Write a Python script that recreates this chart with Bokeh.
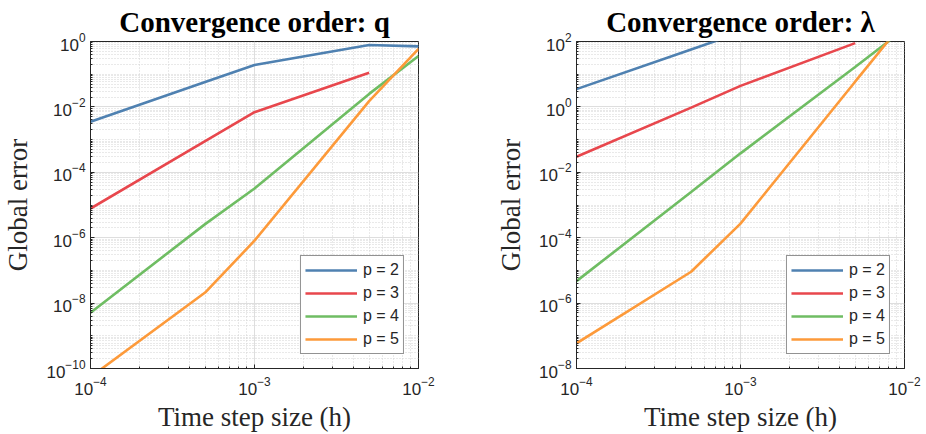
import math
from bokeh.plotting import figure
from bokeh.models import FixedTicker, Range1d, Title
from bokeh.layouts import row
from bokeh.embed import file_html
from bokeh.resources import INLINE

nan = float("nan")

# ---- data ----
h = [1e-4, 5e-4, 1e-3, 5e-3, 1e-2]
series_labels = ["p = 2", "p = 3", "p = 4", "p = 5"]
series_colors = ["#4f81b1", "#e8474d", "#6fbd63", "#fd9a3a"]

q_p2 = [3.5e-3, 5.8e-2, 0.19, 0.78, 0.71]
q_p3 = [7.8e-6, 9.0e-4, 6.9e-3, 0.11, nan]
q_p4 = [5.1e-9, 2.6e-6, 3.2e-5, 2.5e-2, 0.36]
q_p5 = [5.5e-11, 2.1e-8, 8.1e-7, 1.5e-2, 0.59]

lam_p2 = [3.5, 57.0, 190.0, nan, nan]
lam_p3 = [0.03, 0.95, 4.4, 89.0, nan]
lam_p4 = [4.7e-6, 2.5e-3, 0.038, 16.6, 240.0]
lam_p5 = [5.9e-8, 9.1e-6, 2.7e-4, 5.9, 427.0]

x_major = [1e-4, 1e-3, 1e-2]
q_y_major = [1e-10, 1e-8, 1e-6, 1e-4, 1e-2, 1e0]
lam_y_major = [1e-8, 1e-6, 1e-4, 1e-2, 1e0, 1e2]

titles = ["Convergence order: q", "Convergence order: \u03bb"]

INK = "#262626"


def minor_ticks(lo, hi, major):
    out = []
    for n in range(lo, hi):
        for k in range(1, 10):
            v = k * 10.0 ** n
            if not any(abs(v - m) / m < 1e-9 for m in major):
                out.append(v)
    return out


def make_fig(title_text, ylo, yhi, y_major, ys, width, border_left, border_right):
    p = figure(width=width, height=434, x_axis_type="log", y_axis_type="log",
               x_range=Range1d(1e-4, 1e-2), y_range=Range1d(10.0 ** ylo, 10.0 ** yhi),
               output_backend="svg", toolbar_location=None,
               min_border_left=border_left, min_border_right=border_right,
               min_border_top=41, min_border_bottom=66)
    p.background_fill_color = "white"
    p.border_fill_color = "white"
    p.outline_line_color = INK
    p.outline_line_width = 1

    p.title = Title(text=title_text, align="center", text_font="Liberation Serif",
                    text_font_style="bold", text_font_size="29px",
                    text_color="black", standoff=7)

    p.xaxis.ticker = FixedTicker(ticks=x_major, minor_ticks=minor_ticks(-4, -2, x_major))
    p.yaxis.ticker = FixedTicker(ticks=y_major, minor_ticks=minor_ticks(ylo, yhi, y_major))
    for ax in (p.xaxis[0], p.yaxis[0]):
        ax.axis_line_color = INK
        ax.major_tick_line_color = INK
        ax.minor_tick_line_color = INK
        ax.major_tick_in = 4
        ax.major_tick_out = 0
        ax.minor_tick_in = 2
        ax.minor_tick_out = 0
        ax.major_label_text_font = "Liberation Sans"
        ax.major_label_text_font_size = "17px"
        ax.major_label_text_color = INK
        ax.axis_label_text_font = "Liberation Serif"
        ax.axis_label_text_font_style = "normal"
        ax.axis_label_text_font_size = "27px"
        ax.axis_label_text_color = INK
    p.xaxis.axis_label = "Time step size (h)"
    p.yaxis.axis_label = "Global error"
    p.xaxis.major_label_standoff = 8
    p.xaxis.axis_label_standoff = 4
    p.yaxis.major_label_standoff = 5
    p.yaxis.axis_label_standoff = 10

    for g in (p.xgrid[0], p.ygrid[0]):
        g.grid_line_color = "#dedede"
        g.grid_line_width = 1
        g.minor_grid_line_color = "#d2d2d2"
        g.minor_grid_line_dash = "1 2"
        g.minor_grid_line_width = 1

    for lab, col, y in zip(series_labels, series_colors, ys):
        p.line(h, y, line_color=col, line_width=2.6, legend_label=lab)

    lg = p.legend[0]
    lg.location = "bottom_right"
    lg.margin = 14
    lg.padding = 4
    lg.spacing = 3
    lg.glyph_height = 20
    lg.glyph_width = 52
    lg.label_standoff = 6
    lg.label_text_font = "Liberation Sans"
    lg.label_text_font_size = "16px"
    lg.label_text_color = INK
    lg.border_line_color = INK
    lg.border_line_width = 1
    lg.background_fill_color = "white"
    lg.background_fill_alpha = 1.0
    return p


p1 = make_fig(titles[0], -10, 0, q_y_major, [q_p2, q_p3, q_p4, q_p5], 463, 90, 45)
p2 = make_fig(titles[1], -8, 2, lam_y_major, [lam_p2, lam_p3, lam_p4, lam_p5], 463, 113, 22)

layout = row(p1, p2)
open("out.html", "w").write(file_html(layout, INLINE))
